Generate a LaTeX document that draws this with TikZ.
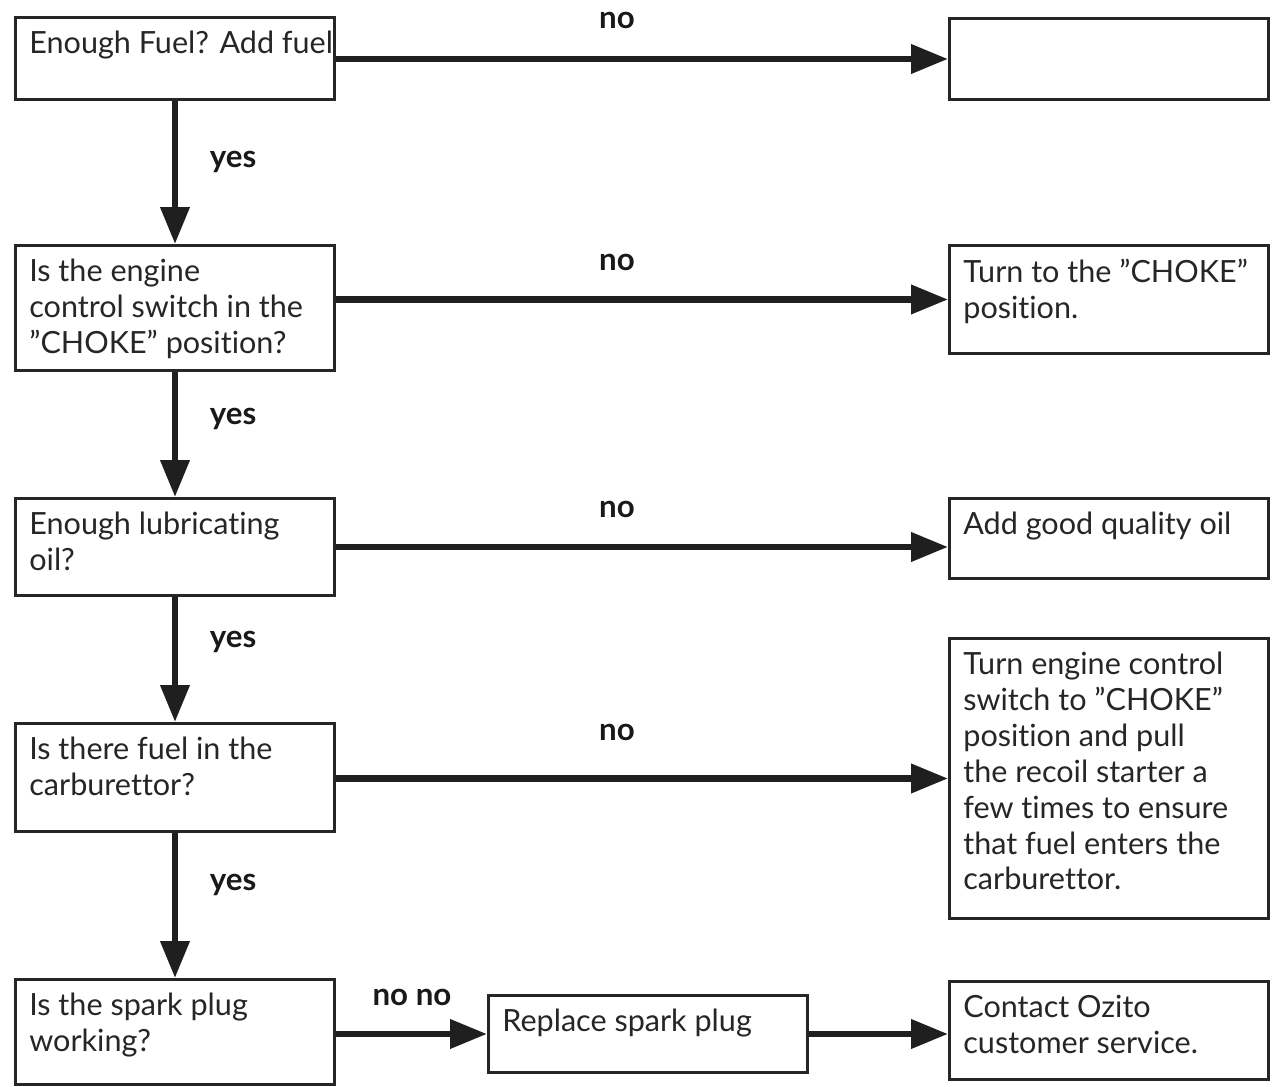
\documentclass[tikz,border=0pt]{standalone}
\usepackage{fontspec}
\setmainfont{Lato}[Ligatures=NoCommon]
\usetikzlibrary{arrows.meta}
\tikzset{
  box/.style={draw=black!85, line width=1.7pt, inner sep=0pt, anchor=north west, fill=white},
  txt/.style={inner sep=0pt, anchor=north west, align=left, text=black!85,
    font=\fontsize{17.4}{20.4}\selectfont},
  lab/.style={inner sep=0pt, text=black!90, font=\fontsize{17.8}{20}\selectfont\bfseries},
  arr/.style={draw=black!88, line width=3.7pt, -{Triangle[length=21pt,width=16pt]}},
}
\newcommand{\bx}[5]{\node[box, minimum width=#4*0.02cm, minimum height=#5*0.02cm] (#1) at (#2,#3) {};}
\begin{document}
\begin{tikzpicture}[x=0.02cm,y=-0.02cm]
\path[fill=white] (0,0) rectangle (1276,1087);
\useasboundingbox (0,0) rectangle (1276,1087);
% boxes
\bx{b1}{14}{16}{319}{82}
\bx{b2}{14}{244}{319}{125}
\bx{b3}{14}{497}{319}{97}
\bx{b4}{14}{722}{319}{108}
\bx{b5}{14}{978}{319}{105}
\bx{r1}{948}{17}{319}{81}
\bx{r2}{948}{244}{319}{108}
\bx{r3}{948}{497}{319}{80}
\bx{r4}{948}{637}{319}{280}
\bx{r5}{948}{980}{319}{98}
\bx{m}{487}{994}{319}{77}
% texts
\node[txt] (t1) at ([shift={(15,15)}]b1.north west) {Enough Fuel? Add fuel};
\node[txt] (t2) at ([shift={(15,15)}]b2.north west) {Is the engine\\control switch in the\\”CHOKE” position?};
\node[txt] (t3) at ([shift={(15,15)}]b3.north west) {Enough lubricating\\oil?};
\node[txt] (t4) at ([shift={(15,15)}]b4.north west) {Is there fuel in the\\carburettor?};
\node[txt] (t5) at ([shift={(15,15)}]b5.north west) {Is the spark plug\\working?};
\node[txt] (u2) at ([shift={(15,15)}]r2.north west) {Turn to the ”CHOKE”\\position.};
\node[txt] (u3) at ([shift={(15,15)}]r3.north west) {Add good quality oil};
\node[txt] (u4) at ([shift={(15,15)}]r4.north west) {Turn engine control\\switch to ”CHOKE”\\position and pull\\the recoil starter a\\few times to ensure\\that fuel enters the\\carburettor.};
\node[txt] (u5) at ([shift={(15,15)}]r5.north west) {Contact Ozito\\customer service.};
\node[txt] (um) at ([shift={(15,15)}]m.north west) {Replace spark plug};
% arrows
\draw[arr] (b1.east |- r1.west) -- (r1.west);
\draw[arr] (b2.east |- r2.west) -- (r2.west);
\draw[arr] (b3.east) -- (b3.east -| r3.west);
\draw[arr] (b4.east |- r4.west) -- (r4.west);
\draw[arr] (b5.east |- m.east) -- (m.west);
\draw[arr] (m.east) -- (m.east -| r5.west);
\draw[arr] (b1.south) -- (b2.north);
\draw[arr] (b2.south) -- (b3.north);
\draw[arr] (b3.south) -- (b4.north);
\draw[arr] (b4.south) -- (b5.north);
% labels
\node[lab] (n1) at (617,20) {no};
\node[lab] (n2) at (617,262) {no};
\node[lab] (n3) at (617,509) {no};
\node[lab] (n4) at (617,732) {no};
\node[lab] (n5) at (412,997) {no no};
\node[lab] (y1) at (233,162) {yes};
\node[lab] (y2) at (233,419) {yes};
\node[lab] (y3) at (233,642) {yes};
\node[lab] (y4) at (233,885) {yes};
\end{tikzpicture}
\end{document}
